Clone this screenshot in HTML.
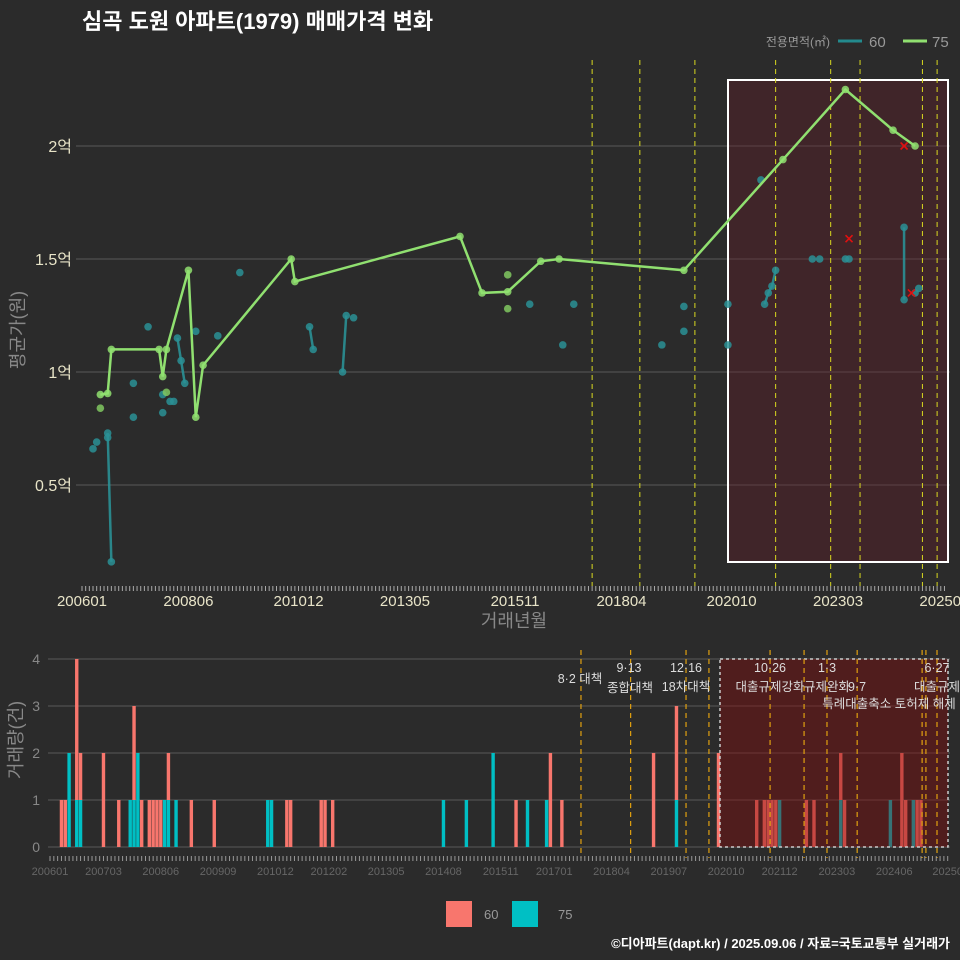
<!DOCTYPE html>
<html><head><meta charset="utf-8">
<style>
body{margin:0;background:#2b2b2b;}
svg{display:block;font-family:"Liberation Sans","Noto Sans CJK KR",sans-serif;}
</style></head>
<body>
<svg id="c" width="960" height="960" viewBox="0 0 960 960">
<rect width="960" height="960" fill="#2b2b2b"/>
<text x="82" y="29" fill="#fff" font-size="22" font-weight="bold">심곡 도원 아파트(1979) 매매가격 변화</text>
<g>
<text x="830" y="46" fill="#999" font-size="12" text-anchor="end">전용면적(㎡)</text>
<line x1="838" y1="41" x2="862" y2="41" stroke="#238A8D" stroke-width="3"/>
<text x="869" y="47" fill="#999" font-size="15">60</text>
<line x1="903" y1="41" x2="927" y2="41" stroke="#90e070" stroke-width="3"/>
<text x="932" y="47" fill="#999" font-size="15">75</text>
</g>
<text transform="translate(24,330) rotate(-90)" fill="#888" font-size="18" text-anchor="middle">평균가(원)</text>
<text x="514" y="627" fill="#888" font-size="18" text-anchor="middle">거래년월</text>
<text transform="translate(22,740) rotate(-90)" fill="#888" font-size="18" text-anchor="middle">거래량(건)</text>
<g>
<rect x="446" y="901" width="26" height="26" fill="#F8766D"/>
<text x="484" y="919" fill="#999" font-size="13">60</text>
<rect x="512" y="901" width="26" height="26" fill="#00BFC4"/>
<text x="558" y="919" fill="#999" font-size="13">75</text>
</g>
<text x="950" y="948" fill="#fff" font-size="13" font-weight="bold" text-anchor="end">©디아파트(dapt.kr) / 2025.09.06 / 자료=국토교통부 실거래가</text>
<g id="topg"></g>
<g id="botg"></g>
</svg>
<script>
// ===== Top chart data (month index from 2006-01, price in 억) =====
const yTicks = [0.5, 1, 1.5, 2];
const xTickMonths = [0, 29, 59, 88, 118, 147, 177, 206, 235];
const xTickLabels = ["200601","200806","201012","201305","201511","201804","202010","202303","202508"];
const line75Months = [5, 7, 8, 21, 22, 23, 29, 31, 33, 57, 58, 103, 109, 116, 125, 130, 164, 191, 208, 221, 227];
const line75Values = [0.90, 0.905, 1.10, 1.10, 0.98, 1.10, 1.45, 0.80, 1.03, 1.50, 1.40, 1.60, 1.35, 1.355, 1.49, 1.50, 1.45, 1.94, 2.25, 2.07, 2.00];
const extra75Months = [5, 23, 116, 116];
const extra75Values = [0.84, 0.91, 1.43, 1.28];
const pts60Months = [3, 4, 7, 7, 8, 14, 14, 18, 22, 22, 24, 25, 26, 27, 28, 31, 37, 43, 62, 63, 71, 72, 74, 122, 131, 134, 158, 164, 164, 176, 176, 185, 186, 187, 188, 189, 199, 201, 208, 209, 224, 224, 227, 228];
const pts60Values = [0.66, 0.69, 0.71, 0.73, 0.16, 0.95, 0.80, 1.20, 0.90, 0.82, 0.87, 0.87, 1.15, 1.05, 0.95, 1.18, 1.16, 1.44, 1.20, 1.10, 1.00, 1.25, 1.24, 1.30, 1.12, 1.30, 1.12, 1.29, 1.18, 1.30, 1.12, 1.85, 1.30, 1.35, 1.38, 1.45, 1.50, 1.50, 1.50, 1.50, 1.32, 1.64, 1.35, 1.37];
const seg60Groups = [[2,3,4],[12,13,14],[18,19],[20,21],[32,33,34,35],[40,41]];
const crossMonths = [224, 209, 226];
const crossValues = [2.00, 1.59, 1.35];
const topEventMonths = [139, 152, 167, 189, 204, 212, 229, 233];
// ===== Bottom chart data =====
const volTicks = [0, 1, 2, 3, 4];
const volTickMonths = [0,14,29,44,59,73,88,103,118,132,147,162,177,191,206,221,235];
const volTickLabels = ["200601","200703","200806","200909","201012","201202","201305","201408","201511","201701","201804","201907","202010","202112","202303","202406","20250"];
const barMonths = [3,4,5,7,8,14,18,21,22,23,24,26,27,28,29,30,31,33,37,43,57,58,62,63,71,72,74,103,109,116,122,125,130,131,134,158,164,175,185,187,188,189,190,191,198,200,207,208,220,223,224,226,227,228];
const bar60 =    [1,1,0,3,1,2,1,0,2,0,1,1,1,1,1,0,1,0,1,1,0,0,1,1,1,1,1,0,0,0,1,0,0,2,1,2,2,2,1,1,1,1,1,0,1,1,1,1,0,2,1,0,1,1];
const bar75 =    [0,0,2,1,1,0,0,1,1,2,0,0,0,0,0,1,1,1,0,0,1,1,0,0,0,0,0,1,1,2,0,1,1,0,0,0,1,0,0,0,0,0,0,1,0,0,1,0,1,0,0,1,0,0];
const botEventMonths = [139, 152, 166.5, 172.5, 188.5, 197.4, 203.4, 211.3, 228.3, 229.3, 232.2];
const eventLabels = ["8·2 대책","9·13","종합대책","12·16","18차대책","10·26","대출규제강화","1·3","규제완화","9·7","특례대출축소 토허제 해제","6·27","대출규제"];

const NS="http://www.w3.org/2000/svg";
function mk(parent,tag,attrs){const e=document.createElementNS(NS,tag);for(const k in attrs)e.setAttribute(k,attrs[k]);parent.appendChild(e);return e;}
const gTop=document.getElementById('topg'), gBot=document.getElementById('botg');
const X=m=>82+m*3.67, Y=v=>598-v*226;
const XB=m=>50+m*3.82, YB=v=>847-v*47;

yTicks.forEach((t,i)=>{
  const g=mk(gTop,'line',{x1:76,x2:950,y1:Y(t),y2:Y(t),stroke:'#5a5a5a','stroke-width':1});
  
  
  const tx=mk(gTop,'text',{x:72,y:Y(t)+6,fill:'#e8e4c8','font-size':16,'text-anchor':'end'});
  tx.textContent=t+'억';
  
  
});
for(let m=0;m<=235;m++){const t=mk(gTop,'line',{x1:X(m),x2:X(m),y1:586,y2:591,stroke:'#aaa','stroke-width':1});
  
  }
xTickMonths.forEach((m,i)=>{const t=mk(gTop,'text',{x:X(m),y:606,fill:'#e8e4c8','font-size':15,'text-anchor':'middle'});t.textContent=xTickLabels[i];
  
  });
const hr=mk(gTop,'rect',{x:728,y:80,width:220,height:482,fill:'rgba(100,30,40,0.38)',stroke:'#fff','stroke-width':2});


topEventMonths.forEach(m=>{const l=mk(gTop,'line',{x1:X(m),x2:X(m),y1:60,y2:586,stroke:'#d8d820','stroke-width':1,'stroke-dasharray':'5,4'});
  
  });
seg60Groups.forEach(g=>{const p=mk(gTop,'polyline',{points:g.map(i=>X(pts60Months[i])+','+Y(pts60Values[i])).join(' '),fill:'none',stroke:'#2a9095','stroke-width':2.5,opacity:0.9});
  
  });
pts60Months.forEach((m,i)=>{const c=mk(gTop,'circle',{cx:X(m),cy:Y(pts60Values[i]),r:3.8,fill:'#2a9095',opacity:0.85});
  
  });
const pl=mk(gTop,'polyline',{points:line75Months.map((m,i)=>X(m)+','+Y(line75Values[i])).join(' '),fill:'none',stroke:'#90e070','stroke-width':2.5});


line75Months.forEach((m,i)=>{const c=mk(gTop,'circle',{cx:X(m),cy:Y(line75Values[i]),r:3.8,fill:'#90e070',opacity:0.85});
  
  });
extra75Months.forEach((m,i)=>{const c=mk(gTop,'circle',{cx:X(m),cy:Y(extra75Values[i]),r:3.8,fill:'#80c860',opacity:0.85});
  
  });
crossMonths.forEach((m,i)=>{const x=X(m),y=Y(crossValues[i]);
  const p=mk(gTop,'path',{d:`M${x-3.5},${y-3.5}L${x+3.5},${y+3.5}M${x-3.5},${y+3.5}L${x+3.5},${y-3.5}`,stroke:'#e01010','stroke-width':1.6});
  
  });

volTicks.forEach(t=>{const g=mk(gBot,'line',{x1:48,x2:950,y1:YB(t),y2:YB(t),stroke:'#5a5a5a','stroke-width':1});
  
  
  const tx=mk(gBot,'text',{x:40,y:YB(t)+5,fill:'#888','font-size':14,'text-anchor':'end'});tx.textContent=t;
  
  });
barMonths.forEach((m,i)=>{const x=XB(m)-1.7;
  if(bar75[i]>0){const r=mk(gBot,'rect',{x:x,y:YB(bar75[i]),width:3.4,height:YB(0)-YB(bar75[i]),fill:'#00BFC4'});
    
    }
  if(bar60[i]>0){const r=mk(gBot,'rect',{x:x,y:YB(bar75[i]+bar60[i]),width:3.4,height:YB(bar75[i])-YB(bar75[i]+bar60[i]),fill:'#F8766D'});
    
    }
});
const br=mk(gBot,'rect',{x:720,y:659,width:228,height:188,fill:'rgba(130,10,10,0.42)',stroke:'#ccc','stroke-width':1.5,'stroke-dasharray':'3,3'});


botEventMonths.forEach(m=>{const l=mk(gBot,'line',{x1:XB(m),x2:XB(m),y1:650,y2:858,stroke:'#e0a010','stroke-width':1.2,'stroke-dasharray':'5,4'});
  
  });
for(let m=0;m<=235;m++){const t=mk(gBot,'line',{x1:XB(m),x2:XB(m),y1:856,y2:861,stroke:'#999','stroke-width':1});
  
  }
volTickMonths.forEach((m,i)=>{const t=mk(gBot,'text',{x:XB(m),y:875,fill:'#666','font-size':11,'text-anchor':'middle'});t.textContent=volTickLabels[i];
  
  });
const lblPos=[[580,683],[629,672],[630,692],[686,672],[686,691],[770,672],[770,691],[827,672],[827,691],[857,691],[889,708],[937,672],[937,691]];
eventLabels.forEach((s,i)=>{const t=mk(gBot,'text',{x:lblPos[i][0],y:lblPos[i][1],fill:'#ddd','font-size':12.5,'text-anchor':'middle'});t.textContent=s;
  
  });
</script>
</body></html>
